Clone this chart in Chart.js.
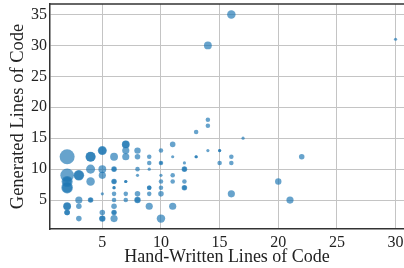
<!DOCTYPE html>
<html><head><meta charset="utf-8">
<script src="https://cdn.jsdelivr.net/npm/chart.js@4"></script>
<style>html,body{margin:0;padding:0;background:#fff;overflow:hidden}</style>
</head><body>
<canvas id="c" width="404" height="268"></canvas>
<script>
// Hand-written lines (x), generated lines (y), number of samples (count)
const handX = [2,2,2,2,2,2, 3,3,3,3, 4,4,4,4, 5,5,5,5,5,5, 6,6,6,6,6,6,6,6,6, 7,7,7,7,7,7, 8,8,8,8,8,8, 9,9,9,9,9,9, 10,10,10,10,10,10,10, 11,11,11,11,11, 12,12,12,12, 13,13, 14,14,14,14, 15,15, 16,16,16,16, 17,20,21,22,30];
const genY  = [12,9,8,7,4,3, 9,5,4,2, 12,10,8,5, 13,10,9,6,3,2, 12,10,8,7,6,5,4,3,2, 14,13,12,8,6,5, 13,12,10,9,6,5, 12,11,10,7,6,4, 13,11,9,8,7,6,2, 14,12,9,8,4, 11,10,8,7, 16,12, 30,18,17,13, 13,11, 35,12,11,6, 15,8,5,12,31];
const count = [22,18,12,13,6,3, 11,5,3,3, 10,8,7,3, 8,6,5,1,3,4, 6,3,3,1,2,2,3,3,5, 6,5,5,1,2,2, 4,3,2,1,3,4, 2,2,1,2,2,5, 2,2,1,2,2,3,7, 3,1,2,2,5, 1,3,2,3, 2,1, 6,2,2,1, 1,2, 7,2,2,5, 1,4,5,3,1];
// Overlapping (stacked) samples at the same coordinates
const overX = [2,2,2,2,3,4,4,5,5,6,6,6,6,7,7,8,9,10,12,12,13,15];
const overY = [8,7,4,3,9,12,5,13,2,10,8,7,3,14,8,5,7,11,10,7,12,13];
const overCount = [8,10,5,3,9,9,2,6,3,2,2,1,2,5,1,3,2,1,2,2,1,1];
const xTicks = [5,10,15,20,25,30];
const yTicks = [5,10,15,20,25,30,35];

const toPts = (xs, ys, cs) => xs.map((x,i)=>({x:x, y:ys[i], c:cs[i]}));
const rad = ctx => 1.6*Math.sqrt(ctx.raw.c);
const fill = 'rgba(31,119,180,0.68)';
const serif = "'Liberation Serif', 'DejaVu Serif', serif";

const topBorder = {
  id:'topBorder',
  beforeDatasetsDraw(chart){
    const {ctx, chartArea:a} = chart;
    ctx.save(); ctx.strokeStyle='#333'; ctx.lineWidth=1.5;
    ctx.beginPath(); ctx.moveTo(a.left, a.top); ctx.lineTo(a.right, a.top); ctx.stroke(); ctx.restore();
  }
};

new Chart(document.getElementById('c'), {
  type:'bubble',
  data:{datasets:[
    {data: toPts(handX, genY, count), backgroundColor: fill, borderWidth:0, radius: rad, clip:false},
    {data: toPts(overX, overY, overCount), backgroundColor: fill, borderWidth:0, radius: rad, clip:false}
  ]},
  options:{
    responsive:false, animation:false, devicePixelRatio:1, events:[],
    layout:{autoPadding:false, padding:{top:4,right:0,left:0,bottom:0}},
    plugins:{legend:{display:false}, tooltip:{enabled:false}},
    scales:{
      x:{type:'linear', min:0.54, max:30.72,
        afterBuildTicks: s => { s.ticks = xTicks.map(v=>({value:v})); },
        afterFit: s => { s.height = 39; s.paddingRight = 0; s.paddingLeft = 0; },
        grid:{color:'#c4c4c4', lineWidth:1, drawTicks:false},
        border:{color:'#333', width:1.5},
        ticks:{padding:4, color:'#222', font:{family:serif, size:16}, maxRotation:0},
        title:{display:true, text:'Hand-Written Lines of Code', color:'#222', font:{family:serif, size:18}, padding:{top:0,bottom:0}}
      },
      y:{type:'linear', min:0.32, max:36.7,
        afterBuildTicks: s => { s.ticks = yTicks.map(v=>({value:v})); },
        afterFit: s => { s.width = 50; s.paddingTop = 0; s.paddingBottom = 0; },
        grid:{color:'#c4c4c4', lineWidth:1, drawTicks:false},
        border:{color:'#333', width:1.5},
        ticks:{padding:3, color:'#222', font:{family:serif, size:16}},
        title:{display:true, text:'Generated Lines of Code', color:'#222', font:{family:serif, size:18.5}, padding:{top:7,bottom:0}}
      }
    }
  },
  plugins:[topBorder]
});
</script>
</body></html>
